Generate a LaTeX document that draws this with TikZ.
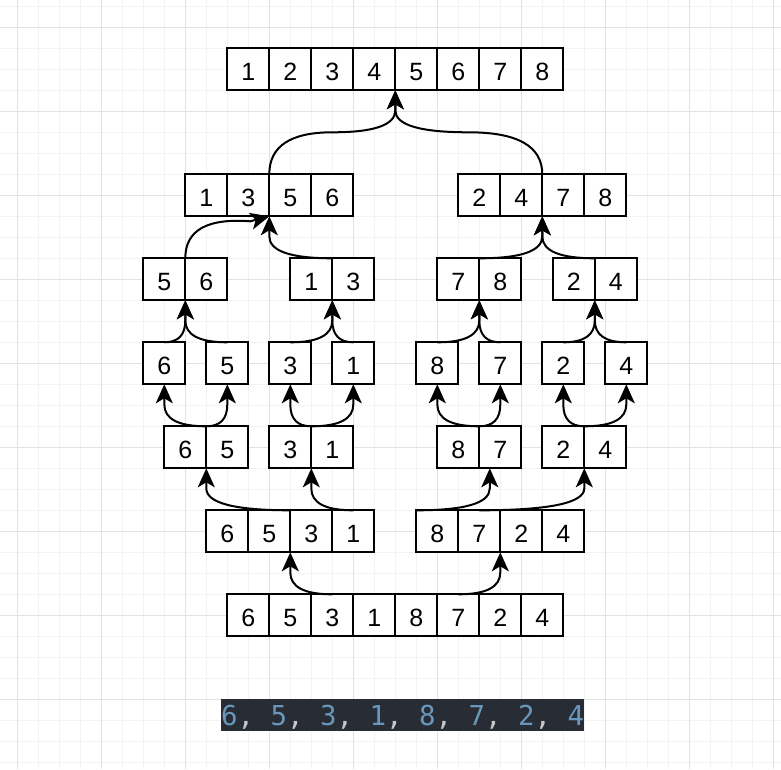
\documentclass[tikz,border=0pt]{standalone}
\usepackage{fontspec}
\setmainfont{Liberation Sans}
\newfontfamily\codefont{DejaVu Sans Mono}
\usetikzlibrary{calc,arrows.meta}
\definecolor{gridlight}{RGB}{243,243,243}
\definecolor{griddark}{RGB}{226,226,226}
\definecolor{codebg}{RGB}{40,44,52}
\definecolor{codenum}{RGB}{104,151,187}
\definecolor{codepunct}{RGB}{200,200,200}

\begin{document}
\begin{tikzpicture}[x=1pt,y=-1pt,
  cell/.style={draw,fill=white,line width=2pt,minimum width=42pt,minimum height=42pt,inner sep=0pt,outer sep=0pt,font=\fontsize{25}{30}\selectfont,text height=22.7pt,text depth=0pt},
  link/.style={line width=2pt,-{Stealth[length=19pt,width=17pt,inset=5pt]}},
  minorline/.style={draw=gridlight,line width=1pt},
  majorline/.style={draw=griddark,line width=1pt}]
\useasboundingbox (0,0) rectangle (781,769);
\fill[white] (0,0) rectangle (781,769);
\foreach \i in {0,...,36} \draw[minorline] (17.3+21*\i,0) -- (17.3+21*\i,769);
\foreach \k in {0,...,36} \draw[minorline] (0,6.3+21*\k) -- (781,6.3+21*\k);
\foreach \i in {0,4,...,36} \draw[majorline] (17.3+21*\i,0) -- (17.3+21*\i,769);
\foreach \k in {0,4,...,32} \draw[majorline] (0,27.3+21*\k) -- (781,27.3+21*\k);
\node[cell] (res1) at (248.3,69.3) {1};
\node[cell] (res2) at (290.3,69.3) {2};
\node[cell] (res3) at (332.3,69.3) {3};
\node[cell] (res4) at (374.3,69.3) {4};
\node[cell] (res5) at (416.3,69.3) {5};
\node[cell] (res6) at (458.3,69.3) {6};
\node[cell] (res7) at (500.3,69.3) {7};
\node[cell] (res8) at (542.3,69.3) {8};
\node[cell] (ml1) at (206.3,195.3) {1};
\node[cell] (ml2) at (248.3,195.3) {3};
\node[cell] (ml3) at (290.3,195.3) {5};
\node[cell] (ml4) at (332.3,195.3) {6};
\node[cell] (mr1) at (479.3,195.3) {2};
\node[cell] (mr2) at (521.3,195.3) {4};
\node[cell] (mr3) at (563.3,195.3) {7};
\node[cell] (mr4) at (605.3,195.3) {8};
\node[cell] (q1a) at (164.3,279.3) {5};
\node[cell] (q1b) at (206.3,279.3) {6};
\node[cell] (q2a) at (311.3,279.3) {1};
\node[cell] (q2b) at (353.3,279.3) {3};
\node[cell] (q3a) at (458.3,279.3) {7};
\node[cell] (q3b) at (500.3,279.3) {8};
\node[cell] (q4a) at (573.8,279.3) {2};
\node[cell] (q4b) at (615.8,279.3) {4};
\node[cell] (e1) at (164.3,363.3) {6};
\node[cell] (e2) at (227.3,363.3) {5};
\node[cell] (e3) at (290.3,363.3) {3};
\node[cell] (e4) at (353.3,363.3) {1};
\node[cell] (e5) at (437.3,363.3) {8};
\node[cell] (e6) at (500.3,363.3) {7};
\node[cell] (e7) at (563.3,363.3) {2};
\node[cell] (e8) at (626.3,363.3) {4};
\node[cell] (p1a) at (185.3,447.3) {6};
\node[cell] (p1b) at (227.3,447.3) {5};
\node[cell] (p2a) at (290.3,447.3) {3};
\node[cell] (p2b) at (332.3,447.3) {1};
\node[cell] (p3a) at (458.3,447.3) {8};
\node[cell] (p3b) at (500.3,447.3) {7};
\node[cell] (p4a) at (563.3,447.3) {2};
\node[cell] (p4b) at (605.3,447.3) {4};
\node[cell] (hl1) at (227.3,531.3) {6};
\node[cell] (hl2) at (269.3,531.3) {5};
\node[cell] (hl3) at (311.3,531.3) {3};
\node[cell] (hl4) at (353.3,531.3) {1};
\node[cell] (hr1) at (437.3,531.3) {8};
\node[cell] (hr2) at (479.3,531.3) {7};
\node[cell] (hr3) at (521.3,531.3) {2};
\node[cell] (hr4) at (563.3,531.3) {4};
\node[cell] (in1) at (248.3,615.3) {6};
\node[cell] (in2) at (290.3,615.3) {5};
\node[cell] (in3) at (332.3,615.3) {3};
\node[cell] (in4) at (374.3,615.3) {1};
\node[cell] (in5) at (416.3,615.3) {8};
\node[cell] (in6) at (458.3,615.3) {7};
\node[cell] (in7) at (500.3,615.3) {2};
\node[cell] (in8) at (542.3,615.3) {4};
\coordinate (p3in) at ([xshift=10.5pt]p3a.south east);
\draw[link] (in3.north) .. controls +(-28,0) and +(0,14.7) .. ([yshift=-20pt]hl2.south east) -- (hl2.south east);
\draw[link] (in6.north) .. controls +(28,0) and +(0,14.7) .. ([yshift=-20pt]hr2.south east) -- (hr2.south east);
\draw[link] (hl2.north east) .. controls +(-56,0) and +(0,14.7) .. ([yshift=-20pt]p1a.south east) -- (p1a.south east);
\draw[link] (hl4.north) .. controls +(-28,0) and +(0,14.7) .. ([yshift=-20pt]p2a.south east) -- (p2a.south east);
\draw[link] (hr1.north west) .. controls +(49.3,0) and +(0,14.7) .. ([yshift=-20pt]p3in) -- (p3in);
\draw[link] (hr2.north) .. controls +(70,0) and +(0,14.7) .. ([yshift=-20pt]p4a.south east) -- (p4a.south east);
\draw[link] (p1a.north east) .. controls +(-28,0) and +(0,14.7) .. ([yshift=-20pt]e1.south) -- (e1.south);
\draw[link] (p1a.north east) .. controls +(14,0) and +(0,14.7) .. ([yshift=-20pt]e2.south) -- (e2.south);
\draw[link] (p2a.north east) .. controls +(-14,0) and +(0,14.7) .. ([yshift=-20pt]e3.south) -- (e3.south);
\draw[link] (p2a.north east) .. controls +(28,0) and +(0,14.7) .. ([yshift=-20pt]e4.south) -- (e4.south);
\draw[link] (p3a.north east) .. controls +(-28,0) and +(0,14.7) .. ([yshift=-20pt]e5.south) -- (e5.south);
\draw[link] (p3a.north east) .. controls +(14,0) and +(0,14.7) .. ([yshift=-20pt]e6.south) -- (e6.south);
\draw[link] (p4a.north east) .. controls +(-14,0) and +(0,14.7) .. ([yshift=-20pt]e7.south) -- (e7.south);
\draw[link] (p4a.north east) .. controls +(28,0) and +(0,14.7) .. ([yshift=-20pt]e8.south) -- (e8.south);
\draw[link] (e1.north) .. controls +(14,0) and +(0,14.7) .. ([yshift=-20pt]q1a.south east) -- (q1a.south east);
\draw[link] (e2.north) .. controls +(-28,0) and +(0,14.7) .. ([yshift=-20pt]q1a.south east) -- (q1a.south east);
\draw[link] (e3.north) .. controls +(28,0) and +(0,14.7) .. ([yshift=-20pt]q2a.south east) -- (q2a.south east);
\draw[link] (e4.north) .. controls +(-14,0) and +(0,14.7) .. ([yshift=-20pt]q2a.south east) -- (q2a.south east);
\draw[link] (e5.north) .. controls +(28,0) and +(0,14.7) .. ([yshift=-20pt]q3a.south east) -- (q3a.south east);
\draw[link] (e6.north) .. controls +(-14,0) and +(0,14.7) .. ([yshift=-20pt]q3a.south east) -- (q3a.south east);
\draw[link] (e7.north) .. controls +(21,0) and +(0,14.7) .. ([yshift=-20pt]q4a.south east) -- (q4a.south east);
\draw[link] (e8.north) .. controls +(-21,0) and +(0,14.7) .. ([yshift=-20pt]q4a.south east) -- (q4a.south east);
\draw[link] (q1a.north east) .. controls +(0,-28) and +(-43.3,-3.3) .. ([xshift=-19pt,yshift=-5pt]ml2.south east) -- (ml2.south east);
\draw[link] (q2a.north east) .. controls +(-42,0) and +(0,14.7) .. ([yshift=-20pt]ml2.south east) -- (ml2.south east);
\draw[link] (q3a.north east) .. controls +(42,0) and +(0,14.7) .. ([yshift=-20pt]mr2.south east) -- (mr2.south east);
\draw[link] (q4a.north east) .. controls +(-35,0) and +(0,14.7) .. ([yshift=-20pt]mr2.south east) -- (mr2.south east);
\draw[link] (ml2.north east) .. controls +(0,-28) and +(-42,0) .. ($(ml2.north east)!0.5!(res4.south east)$) .. controls +(42,0) and +(0,14.7) .. ([yshift=-20pt]res4.south east) -- (res4.south east);
\draw[link] (mr2.north east) .. controls +(0,-28) and +(49,0) .. ($(mr2.north east)!0.5!(res4.south east)$) .. controls +(-49,0) and +(0,14.7) .. ([yshift=-20pt]res4.south east) -- (res4.south east);
\node[fill=codebg,inner sep=0pt,text height=25.7pt,text depth=6pt,anchor=west,font=\codefont\fontsize{27.4}{32}\selectfont] (code) at (221,715.15) {{\color{codenum}6}{\color{codepunct},} {\color{codenum}5}{\color{codepunct},} {\color{codenum}3}{\color{codepunct},} {\color{codenum}1}{\color{codepunct},} {\color{codenum}8}{\color{codepunct},} {\color{codenum}7}{\color{codepunct},} {\color{codenum}2}{\color{codepunct},} {\color{codenum}4}};
\end{tikzpicture}
\end{document}
